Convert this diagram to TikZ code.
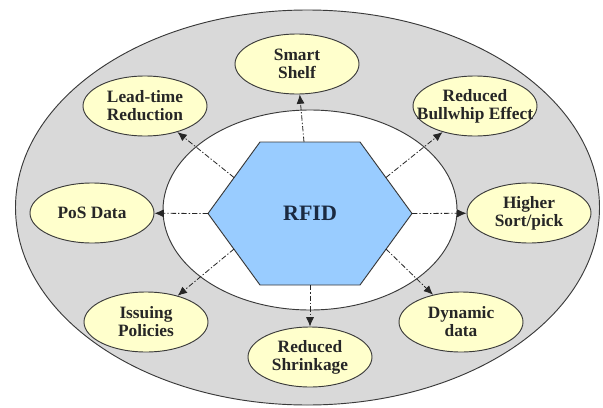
\documentclass[tikz,border=0pt]{standalone}
\usepackage{fontspec}
\setmainfont{Liberation Serif}
\usetikzlibrary{shapes.geometric, arrows.meta}
\definecolor{ringgray}{HTML}{D9D9D9}
\definecolor{benefityellow}{HTML}{FFFFCC}
\definecolor{rfidblue}{HTML}{99CCFF}
\definecolor{rfidtext}{HTML}{1B2A41}
\definecolor{edgegray}{HTML}{3A3A3A}

\begin{document}
\begin{tikzpicture}[
    x=0.75pt, y=-0.75pt,
    ring/.style={draw=edgegray, line width=0.7pt},
    benefit/.style={ellipse, draw=edgegray, fill=benefityellow, line width=0.7pt,
        minimum width=93pt, minimum height=45pt, inner xsep=-12pt, inner ysep=0pt,
        align=center, font=\fontsize{13}{13.5}\selectfont\bfseries, text=black!85},
    hexa/.style={draw=edgegray, fill=rfidblue, line width=0.7pt},
    arr/.style={-{Latex[length=7pt, width=6pt]}, line width=0.6pt, black!85,
        dash pattern=on 4pt off 1.5pt on 1pt off 1.5pt}
]
    \useasboundingbox (0,0) rectangle (603,407);
    % rings
    \draw[ring, fill=ringgray] (307.5,207.5) ellipse [x radius=292, y radius=197.5];
    \draw[ring, fill=white] (310,210) ellipse [x radius=147, y radius=100];

    % hexagon
    \draw[hexa] (208,213.5) -- (260,142) -- (360,142) -- (412,213.5)
        -- (360,285) -- (260,285) -- cycle;
    \node[font=\fontsize{16.5}{18}\selectfont\bfseries, text=rfidtext] (rfid) at (310,213.5) {RFID};

    % start points on the hexagon
    \coordinate (hN) at (304,142);
    \coordinate (hNW) at (234,177.5);
    \coordinate (hNE) at (386,177.5);
    \coordinate (hW) at (208,213.5);
    \coordinate (hE) at (412,213.5);
    \coordinate (hSW) at (234,249);
    \coordinate (hSE) at (386,249);
    \coordinate (hS) at (310,285);

    \node[benefit] (shelf) at (297,64) {Smart\\Shelf};
    \node[benefit] (lead) at (145,106) {Lead-time\\Reduction};
    \node[benefit] (bullwhip) at (475,106) {Reduced\\Bullwhip Effect};
    \node[benefit] (pos) at (92,213) {PoS Data};
    \node[benefit] (sort) at (529,213) {Higher\\Sort/pick};
    \node[benefit] (issue) at (146,322) {Issuing\\Policies};
    \node[benefit] (shrink) at (310,357) {Reduced\\Shrinkage};
    \node[benefit] (dynamic) at (461,322) {Dynamic\\data};

    \foreach \a/\b in {hN/shelf, hNW/lead, hNE/bullwhip, hW/pos, hE/sort,
                       hSW/issue, hS/shrink, hSE/dynamic}
        \draw[arr] (\a) -- (\b);
\end{tikzpicture}
\end{document}
